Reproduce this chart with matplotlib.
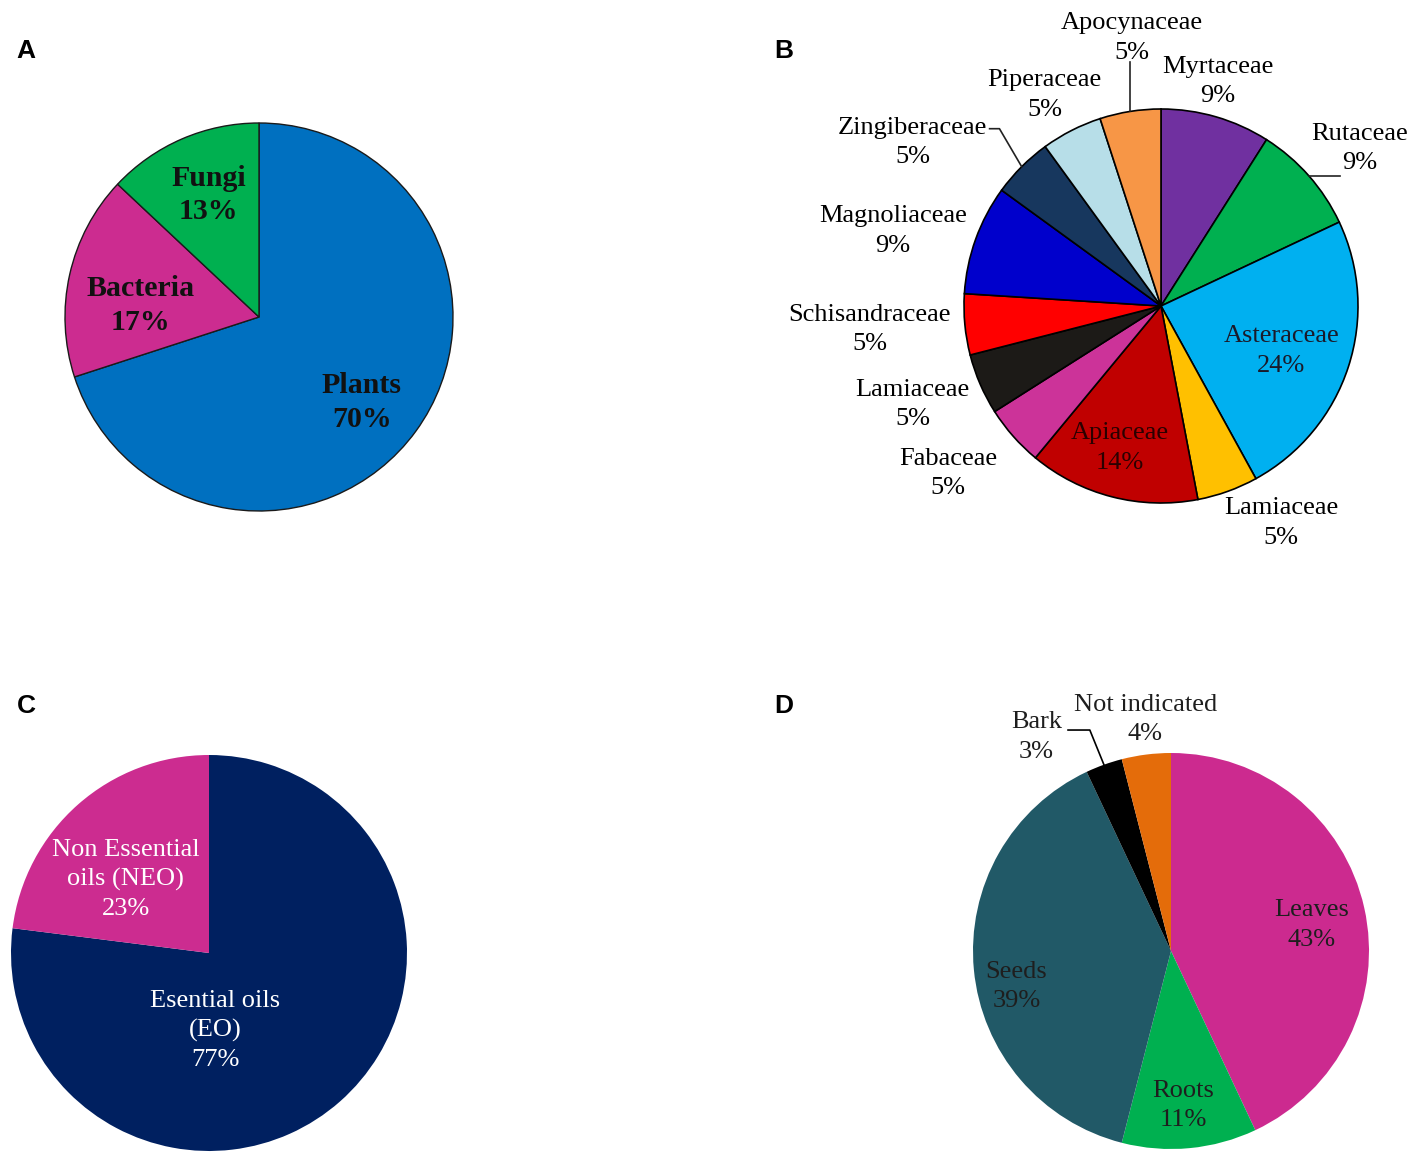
import matplotlib
matplotlib.use('Agg')
import matplotlib.pyplot as plt
import numpy as np

# ---- data ----
a_labels = ['Plants', 'Bacteria', 'Fungi']
a_values = [70, 17, 13]

b_labels = ['Myrtaceae', 'Rutaceae', 'Asteraceae', 'Lamiaceae', 'Apiaceae', 'Fabaceae',
            'Lamiaceae', 'Schisandraceae', 'Magnoliaceae', 'Zingiberaceae', 'Piperaceae',
            'Apocynaceae']
b_values = [9, 9, 24, 5, 14, 5, 5, 5, 9, 5, 5, 5]

c_labels = ['Esential oils\n(EO)', 'Non Essential\noils (NEO)']
c_values = [77, 23]

d_labels = ['Leaves', 'Roots', 'Seeds', 'Bark', 'Not indicated']
d_values = [43, 11, 39, 3, 4]

# ---- styles ----
a_colors = ['#0070C0', '#CC2C90', '#00B050']
b_colors = ['#7030A0', '#00B050', '#00B0F0', '#FFC000', '#C00000', '#CC3399',
            '#1C1A17', '#FF0000', '#0000CC', '#17375E', '#B7DEE8', '#F79646']
c_colors = ['#002060', '#CC2C90']
d_colors = ['#CC2A8F', '#00B050', '#215967', '#000000', '#E46C0A']

# label positions in units of pie radius
a_pos = [(0.53, -0.44), (-0.61, 0.06), (-0.26, 0.63)]
b_pos = [(0.29, 1.14), (1.01, 0.80), (0.61, -0.23), (0.61, -1.10), (-0.21, -0.72),
         (-1.08, -0.85), (-1.26, -0.50), (-1.48, -0.12), (-1.36, 0.38), (-1.26, 0.83),
         (-0.59, 1.07), (-0.15, 1.36)]
b_textcol = ['black'] * 12
b_textcol[2] = '#1a1a2a'
b_textcol[4] = '#2a0000'
c_pos = [(0.03, -0.39), (-0.42, 0.37)]
d_pos = [(0.71, 0.13), (0.06, -0.78), (-0.78, -0.18), (-0.68, 1.08), (-0.13, 1.17)]

SERIF = ['Liberation Serif', 'DejaVu Serif']
W, H = 1418, 1172
PAD = 1.75

fig = plt.figure(figsize=(W / 100, H / 100), dpi=100)


def pie_axes(cx, cy, r):
    half = r * PAD
    ax = fig.add_axes([(cx - half) / W, 1 - (cy + half) / H, 2 * half / W, 2 * half / H])
    return ax


def fix_limits(ax):
    ax.set_xlim(-PAD, PAD)
    ax.set_ylim(-PAD, PAD)
    ax.set_aspect('equal')
    ax.axis('off')


def mid_point(w, rad=1.0):
    t = np.deg2rad((w.theta1 + w.theta2) / 2)
    return rad * np.cos(t), rad * np.sin(t)


# ---- A ----
ax = pie_axes(259, 317, 194)
ax.pie(a_values, colors=a_colors, startangle=90, counterclock=False, radius=1,
       wedgeprops=dict(edgecolor='#1a1a1a', linewidth=1.0))
fix_limits(ax)
for lab, v, (x, y) in zip(a_labels, a_values, a_pos):
    ax.text(x, y, f'{lab}\n{v}%', ha='center', va='center', fontsize=21.5,
            fontweight='bold', family=SERIF, color='#111111', linespacing=1.3)

# ---- B ----
ax = pie_axes(1161, 306, 197)
wedges, _ = ax.pie(b_values, colors=b_colors, startangle=90, counterclock=False, radius=1,
                   wedgeprops=dict(edgecolor='black', linewidth=1.2))
fix_limits(ax)
for lab, v, (x, y), tc in zip(b_labels, b_values, b_pos, b_textcol):
    ax.text(x, y, f'{lab}\n{v}%', ha='center', va='center', fontsize=19,
            family=SERIF, color=tc, linespacing=1.45)
# leader lines
ex, ey = mid_point(wedges[1])
ax.plot([ex, 0.91], [ey, ey], color='#222222', lw=1.2)
ex, ey = mid_point(wedges[9])
ax.plot([-0.87, -0.82, ex], [0.90, 0.90, ey], color='#222222', lw=1.2)
ex, ey = mid_point(wedges[11])
ax.plot([ex, ex], [ey, 1.24], color='#222222', lw=1.2)

# ---- C ----
ax = pie_axes(209, 953, 198)
ax.pie(c_values, colors=c_colors, startangle=90, counterclock=False, radius=1)
fix_limits(ax)
for lab, v, (x, y) in zip(c_labels, c_values, c_pos):
    ax.text(x, y, f'{lab}\n{v}%', ha='center', va='center', fontsize=19,
            family=SERIF, color='white', linespacing=1.4)

# ---- D ----
ax = pie_axes(1171, 951, 198)
wedges, _ = ax.pie(d_values, colors=d_colors, startangle=90, counterclock=False, radius=1)
fix_limits(ax)
for lab, v, (x, y) in zip(d_labels, d_values, d_pos):
    ax.text(x, y, f'{lab}\n{v}%', ha='center', va='center', fontsize=19,
            family=SERIF, color='#1e1e1e', linespacing=1.45)
ex, ey = mid_point(wedges[3])
ax.plot([-0.52, -0.41, ex], [1.116, 1.116, ey], color='black', lw=1.2)

# panel letters
for letter, (px, py) in zip('ABCD', [(26, 51), (784, 51), (26, 706), (784, 706)]):
    fig.text(px / W, 1 - py / H, letter, ha='center', va='center', fontsize=19,
             fontweight='bold', family=['Liberation Sans', 'DejaVu Sans'])

fig.savefig('out.png', dpi=100, facecolor='white')
